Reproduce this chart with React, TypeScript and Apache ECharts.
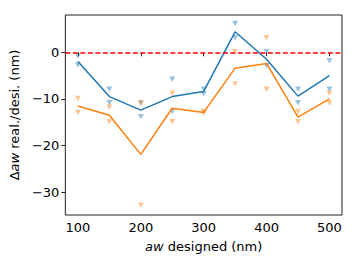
import React, { useEffect, useRef } from "react";
import * as echarts from "echarts";

const designed = [100, 150, 200, 250, 300, 350, 400, 450, 500];
const blueMean = [-2.0, -9.5, -12.4, -9.5, -8.4, 4.4, -1.5, -9.4, -5.0];
const blueRunA = [-0.8, -7.9, -10.9, -5.8, -7.9, 6.2, 0.1, -7.9, -1.8];
const blueRunB = [-2.7, -10.8, -13.8, -12.7, -8.9, 3.1, -2.9, -10.8, -7.9];
const orangeMean = [-11.5, -13.5, -21.9, -12.0, -12.9, -3.4, -2.4, -13.9, -10.0];
const orangeRunA = [-9.9, -11.8, -10.9, -8.8, -12.7, 0.1, 3.1, -12.7, -8.8];
const orangeRunB = [-12.9, -14.9, -32.8, -14.9, -13.1, -6.8, -7.9, -14.9, -10.9];
const xTicks = [100, 200, 300, 400, 500];
const yTicks = [-30, -20, -10, 0];

const BLUE = "#1f77b4";
const ORANGE = "#ff7f0e";
const FONT = "DejaVu Sans";

const pairs = (xs: number[], ys: number[]) => xs.map((x, i) => [x, ys[i]]);

export default function App() {
  const ref = useRef<HTMLDivElement>(null);
  useEffect(() => {
    if (!ref.current) return;
    const chart = echarts.init(ref.current, null, { renderer: "svg" });
    const tri = (data: number[][], color: string) => ({
      type: "scatter",
      data,
      symbol: "triangle",
      symbolRotate: 180,
      symbolSize: [6, 5.5],
      itemStyle: { color, opacity: 0.45 },
      z: 2,
    });
    chart.setOption({
      animation: false,
      grid: {
        left: 65,
        right: 15,
        top: 15,
        bottom: 53,
        show: true,
        borderColor: "#222",
        borderWidth: 1,
        backgroundColor: "transparent",
      },
      xAxis: {
        type: "value",
        min: 80,
        max: 520,
        splitLine: { show: false },
        axisLine: { show: false },
        axisTick: { show: true, length: 4, customValues: xTicks, lineStyle: { color: "#222" } },
        axisLabel: {
          customValues: xTicks,
          fontFamily: FONT,
          fontSize: 13,
          color: "#000",
          margin: 6,
        },
        name: "{i|aw} designed (nm)",
        nameLocation: "middle",
        nameGap: 25,
        nameTextStyle: {
          fontFamily: FONT,
          fontSize: 13,
          color: "#000",
          rich: { i: { fontStyle: "italic", fontFamily: FONT, fontSize: 13, color: "#000" } },
        },
      },
      yAxis: {
        type: "value",
        min: -34.9,
        max: 8,
        splitLine: { show: false },
        axisLine: { show: false },
        axisTick: { show: true, length: 4, customValues: yTicks, lineStyle: { color: "#222" } },
        axisLabel: {
          customValues: yTicks,
          fontFamily: FONT,
          fontSize: 13,
          color: "#000",
          margin: 6,
          formatter: (v: number) => String(v).replace("-", "\u2212"),
        },
        name: "\u0394{i|aw} real./desi. (nm)",
        nameLocation: "middle",
        nameGap: 39,
        nameTextStyle: {
          fontFamily: FONT,
          fontSize: 13,
          color: "#000",
          rich: { i: { fontStyle: "italic", fontFamily: FONT, fontSize: 13, color: "#000" } },
        },
      },
      series: [
        tri(pairs(designed, blueRunA), BLUE),
        tri(pairs(designed, blueRunB), BLUE),
        tri(pairs(designed, orangeRunA), ORANGE),
        tri(pairs(designed, orangeRunB), ORANGE),
        {
          type: "line",
          data: pairs(designed, blueMean),
          showSymbol: false,
          lineStyle: { color: BLUE, width: 1.5 },
          z: 3,
        },
        {
          type: "line",
          data: pairs(designed, orangeMean),
          showSymbol: false,
          lineStyle: { color: ORANGE, width: 1.5 },
          z: 3,
          markLine: {
            silent: true,
            symbol: "none",
            label: { show: false },
            lineStyle: { color: "#ff0000", type: [5, 2.5], width: 1.5 },
            data: [{ yAxis: 0 }],
          },
        },
      ],
    });
    return () => chart.dispose();
  }, []);
  return <div ref={ref} style={{ width: 357, height: 268, position: "absolute", left: 0, top: 0 }} />;
}
